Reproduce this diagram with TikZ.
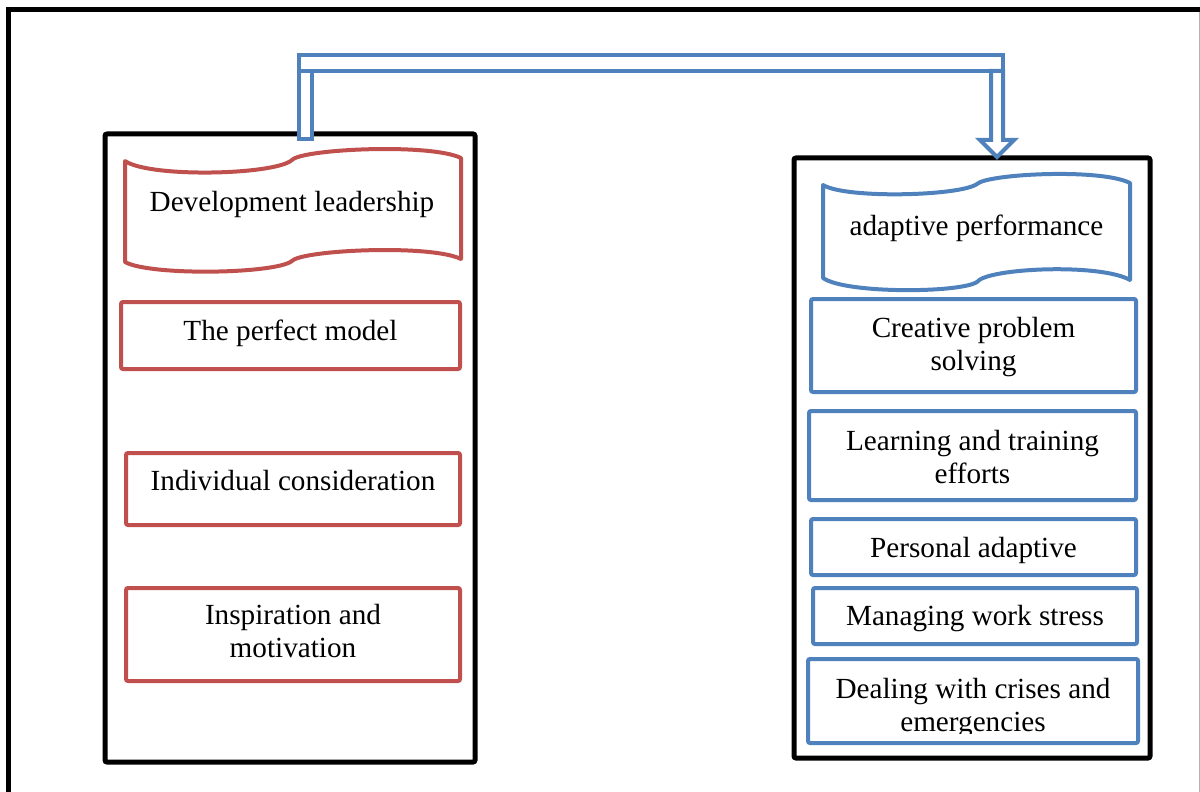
\documentclass[tikz,border=0pt]{standalone}
\usepackage{fontspec}
\setmainfont{Liberation Serif}
\usetikzlibrary{fit}
\definecolor{cred}{RGB}{192,80,77}
\definecolor{cblue}{RGB}{79,129,189}
\newcommand\myfs{\fontsize{14.6pt}{16.6pt}\selectfont}
\newcommand\twoline[2]{\begin{tabular}[t]{@{}c@{}}#1\\#2\end{tabular}}
\begin{document}
\begin{tikzpicture}[x=0.5pt,y=-0.5pt,
  redbox/.style={draw=cred, line width=2pt, rounded corners=1pt, inner sep=0pt, fill=white},
  bluebox/.style={draw=cblue, line width=2pt, rounded corners=1pt, inner sep=0pt, fill=white},
  group/.style={draw=black, line width=2.5pt, rounded corners=1pt, inner sep=0pt},
  lbl/.style={font=\myfs, anchor=base, inner sep=0pt},
  wave/.style={line width=2pt, line join=round, fill=white},
  hollow/.style={draw=cblue, line width=2pt, fill=white, line join=miter}]
\useasboundingbox (0,0) rectangle (1200,792);
% outer frame
\draw[line width=2.5pt] (8.5,820) -- (8.5,9.5) -- (1220,9.5);
\draw[gray!60, line width=0.6pt] (1199.3,12) -- (1199.3,792);
% group boxes
\node[group, fit={(105,134) (475,762)}] (lg) {};
\node[group, fit={(794,158) (1150,758)}] (rg) {};
% left wave
\draw[wave, draw=cred] (125,161) .. controls (150,178) and (275,175) .. (292,160)
  .. controls (302,149) and (430,143) .. (461,158) -- (461,259)
  .. controls (430,244) and (302,250) .. (292,261)
  .. controls (275,274) and (150,276) .. (125,262) -- cycle;
\node[lbl] (lhead) at (292,212) {Development leadership};
% right wave
\draw[wave, draw=cblue] (823,185) .. controls (846,199) and (960,196) .. (977,184)
  .. controls (987,174) and (1100,168) .. (1130,183) -- (1130,280)
  .. controls (1100,263) and (987,268) .. (977,282)
  .. controls (960,293) and (846,294) .. (823,278) -- cycle;
\node[lbl] (rhead) at (976.5,235) {adaptive performance};
% left items
\node[redbox, fit={(121,302) (460,369)}] (l1) {};
\node[lbl] (l1t) at (290.5,340) {The perfect model};
\node[redbox, fit={(126,453) (460,525)}] (l2) {};
\node[lbl] (l2t) at (293,490) {Individual consideration};
\node[redbox, fit={(126,588) (460,681)}] (l3) {};
\node[lbl] (l3t) at (293,624) {\twoline{Inspiration and}{motivation}};
% right items
\node[bluebox, fit={(811,299) (1136,392)}] (r1) {};
\node[lbl] (r1t) at (973.5,337) {\twoline{Creative problem}{solving}};
\node[bluebox, fit={(809,411) (1136,500)}] (r2) {};
\node[lbl] (r2t) at (972.5,450) {\twoline{Learning and training}{efforts}};
\node[bluebox, fit={(811,519) (1136,575)}] (r3) {};
\node[lbl] (r3t) at (973.5,557) {Personal adaptive};
\node[bluebox, fit={(813,588) (1137,644)}] (r4) {};
\node[lbl] (r4t) at (975,625) {Managing work stress};
\node[bluebox, fit={(808,659) (1138,743)}] (r5) {};
\begin{scope}
\clip (808,659) rectangle (1138,733);
\node[lbl] (r5t) at (973,698) {\twoline{Dealing with crises and}{emergencies}};
\end{scope}
% hollow bent arrow from left group to right group
\coordinate (aS) at (305.5,139);
\coordinate (aE) at (997,157);
\draw[hollow] (299,55) rectangle (1003,71);
\draw[hollow] (aS -| 299,0) |- (312,71) |- (aS) -- cycle;
\draw[hollow] (991,71) -- (1003,71) -- (1003,140) -- (1014,140) -- (aE) -- (980,140) -- (991,140) -- cycle;
\end{tikzpicture}
\end{document}
